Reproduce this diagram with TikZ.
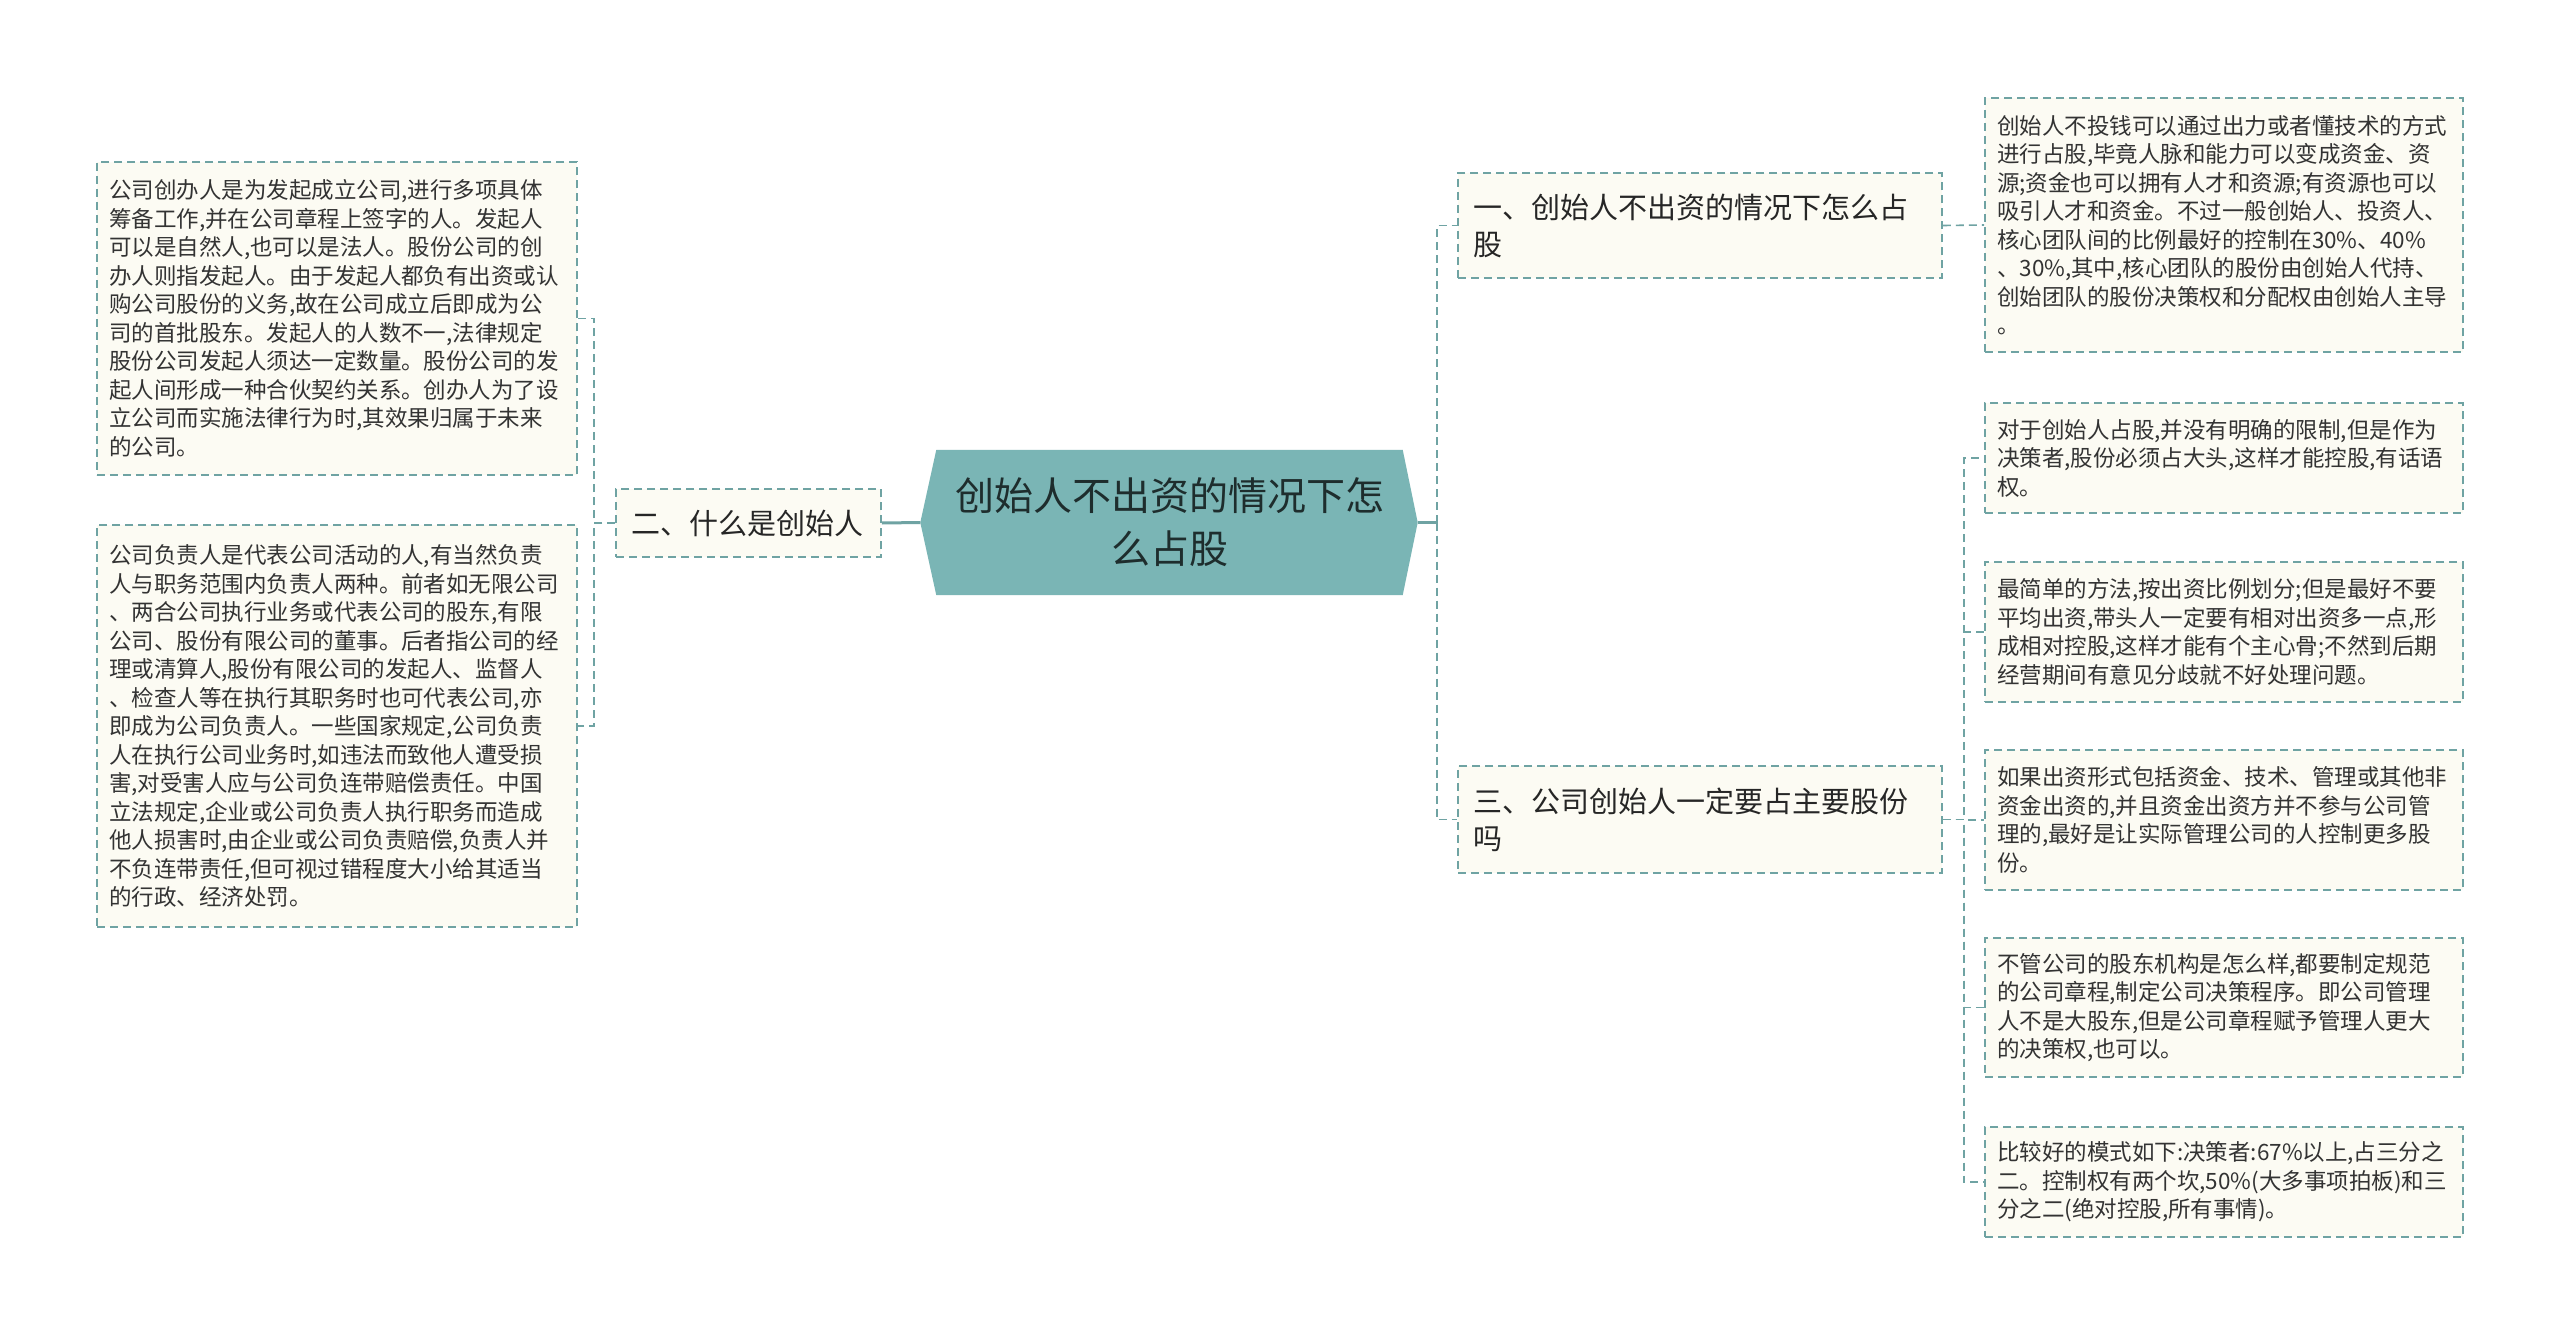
\documentclass[tikz,border=0pt]{standalone}
\usepackage{fontspec}
\newfontfamily\cjk{Noto Sans CJK SC}
\usetikzlibrary{positioning}
\usetikzlibrary{backgrounds}
\definecolor{lineC}{RGB}{111,163,163}
\definecolor{coreC}{RGB}{122,181,181}
\definecolor{paperC}{RGB}{252,251,243}
\definecolor{inkC}{RGB}{51,51,51}
\definecolor{coreInk}{RGB}{30,45,45}
\newcommand{\leafsize}{\cjk\fontsize{22.5}{28.5}\selectfont}
\newcommand{\topicsize}{\cjk\fontsize{29}{37}\selectfont}
\newcommand{\coresize}{\cjk\fontsize{39}{53}\selectfont}
\tikzset{
	box/.style={
		rectangle,
		draw=lineC,
		line width=1.6pt,
		dash pattern=on 8pt off 5pt,
		fill=paperC,
		align=left,
		inner ysep=0pt
	},
	leaf/.style={box, font=\leafsize, text=inkC, inner xsep=12pt, text width=454pt},
	topic/.style={box, font=\topicsize, text=black!85, inner xsep=15pt, text width=454pt},
	core/.style={rectangle, align=center, font=\coresize, text=coreInk, minimum width=466pt, minimum height=145pt},
	link/.style={draw=lineC, line width=1.6pt, dash pattern=on 8pt off 5pt},
	trunk/.style={draw=lineC, line width=3pt}
}
\begin{document}
\begin{tikzpicture}[x=1pt,y=-1pt]
	\useasboundingbox (0,0) rectangle (2560,1335);

	\node[core] (Root) at (1169.5,522.5) {创始人不出资的情况下怎\\么占股};
	\coordinate (RootL) at ([xshift=-16pt]Root.west);
	\coordinate (RootR) at ([xshift=15pt]Root.east);

	% left branch
	\node[topic, text width=235pt, minimum height=68pt] (What) at (748.5,523) {二、什么是创始人};
	\node[leaf, text width=456pt, minimum height=313pt] (Def1) at (337,318.5) {公司创办人是为发起成立公司,进行多项具体\\筹备工作,并在公司章程上签字的人。发起人\\可以是自然人,也可以是法人。股份公司的创\\办人则指发起人。由于发起人都负有出资或认\\购公司股份的义务,故在公司成立后即成为公\\司的首批股东。发起人的人数不一,法律规定\\股份公司发起人须达一定数量。股份公司的发\\起人间形成一种合伙契约关系。创办人为了设\\立公司而实施法律行为时,其效果归属于未来\\的公司。};
	\node[leaf, text width=456pt, minimum height=402pt] (Def2) at (337,726) {公司负责人是代表公司活动的人,有当然负责\\人与职务范围内负责人两种。前者如无限公司\\、两合公司执行业务或代表公司的股东,有限\\公司、股份有限公司的董事。后者指公司的经\\理或清算人,股份有限公司的发起人、监督人\\、检查人等在执行其职务时也可代表公司,亦\\即成为公司负责人。一些国家规定,公司负责\\人在执行公司业务时,如违法而致他人遭受损\\害,对受害人应与公司负连带赔偿责任。中国\\立法规定,企业或公司负责人执行职务而造成\\他人损害时,由企业或公司负责赔偿,负责人并\\不负连带责任,但可视过错程度大小给其适当\\的行政、经济处罚。};

	% right branch
	\node[topic, minimum height=105pt] (NoFund) at (1700,225.5) {一、创始人不出资的情况下怎么占\\股};
	\node[topic, minimum height=107pt] (Major) at (1700,819.5) {三、公司创始人一定要占主要股份\\吗};
	\node[leaf, minimum height=254pt] (Way) at (2224,225) {创始人不投钱可以通过出力或者懂技术的方式\\进行占股,毕竟人脉和能力可以变成资金、资\\源;资金也可以拥有人才和资源;有资源也可以\\吸引人才和资金。不过一般创始人、投资人、\\核心团队间的比例最好的控制在30\%、40\%\\、30\%,其中,核心团队的股份由创始人代持、\\创始团队的股份决策权和分配权由创始人主导\\。};
	\node[leaf, minimum height=110pt] (Limit) at (2224,458) {对于创始人占股,并没有明确的限制,但是作为\\决策者,股份必须占大头,这样才能控股,有话语\\权。};
	\node[leaf, minimum height=140pt] (Simple) at (2224,632) {最简单的方法,按出资比例划分;但是最好不要\\平均出资,带头人一定要有相对出资多一点,形\\成相对控股,这样才能有个主心骨;不然到后期\\经营期间有意见分歧就不好处理问题。};
	\node[leaf, minimum height=140pt] (Form) at (2224,820) {如果出资形式包括资金、技术、管理或其他非\\资金出资的,并且资金出资方并不参与公司管\\理的,最好是让实际管理公司的人控制更多股\\份。};
	\node[leaf, minimum height=139pt] (Rule) at (2224,1007.5) {不管公司的股东机构是怎么样,都要制定规范\\的公司章程,制定公司决策程序。即公司管理\\人不是大股东,但是公司章程赋予管理人更大\\的决策权,也可以。};
	\node[leaf, minimum height=110pt] (Mode) at (2224,1182) {比较好的模式如下:决策者:67\%以上,占三分之\\二。控制权有两个坎,50\%(大多事项拍板)和三\\分之二(绝对控股,所有事情)。};

	\begin{scope}[on background layer]
		\fill[white] (0,0) rectangle (2560,1335);
		\fill[coreC] (Root.north west) -- (Root.north east) -- (RootR) -- (Root.south east) -- (Root.south west) -- (RootL) -- cycle;
	\end{scope}

	\draw[trunk] (RootL) -- (What.east);
	\draw[link] (What.west) -- ++(-21,0) |- (Def1.east);
	\draw[link] (What.west) -- ++(-21,0) |- (Def2.east);

	\draw[trunk] (RootR) -- ++(19,0) coordinate (RootJ);
	\draw[link] (RootJ) |- (NoFund.west);
	\draw[link] (RootJ) |- (Major.west);
	\draw[link] (NoFund.east) -- (Way.west);
	\foreach \n in {Limit,Simple,Form,Rule,Mode}
		\draw[link] (Major.east) -- ++(21,0) |- (\n.west);
\end{tikzpicture}
\end{document}
